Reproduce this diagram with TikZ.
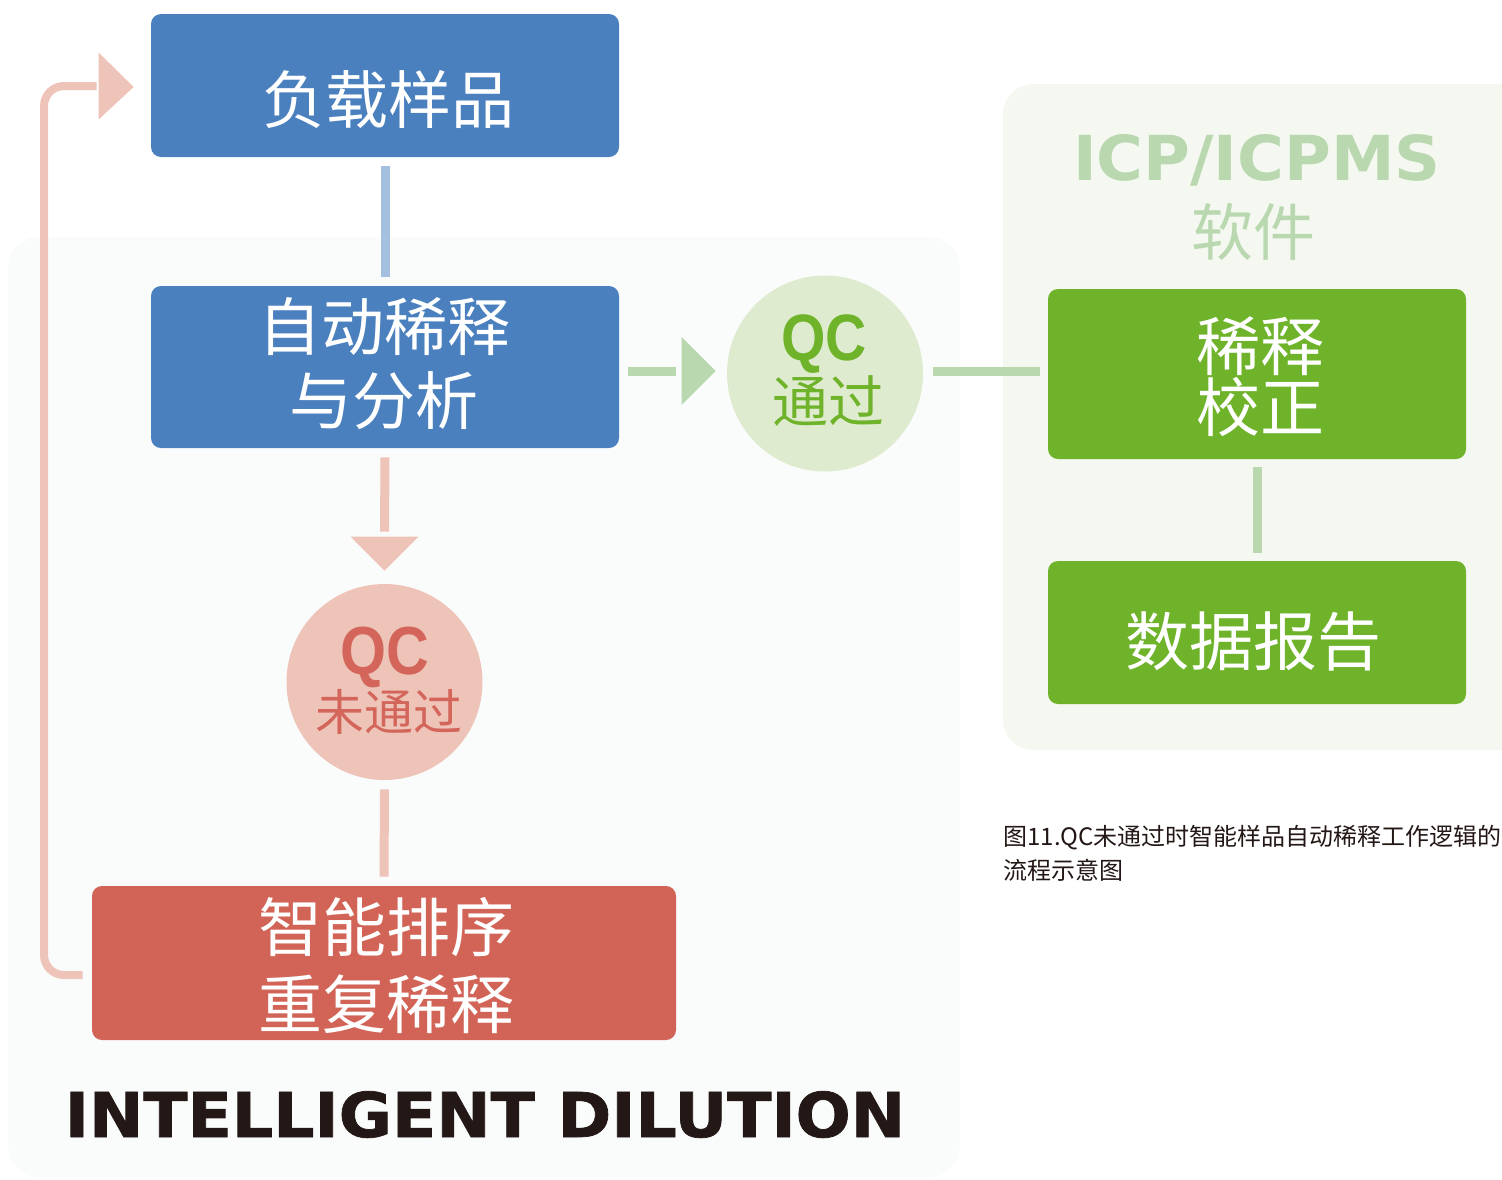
\documentclass[tikz,border=0pt]{standalone}
\usepackage{fontspec}
\setmainfont{Noto Sans CJK SC}
\newfontfamily\dvfont{DejaVu Sans}
\newfontfamily\dvheavy{DejaVu Sans}[FakeBold=1.2]
\newfontfamily\libfont{Liberation Sans}
\usetikzlibrary{calc}
\definecolor{cblue}{HTML}{4B80BF}
\definecolor{cbluel}{HTML}{A5BFDF}
\definecolor{cpink}{HTML}{EEC3B8}
\definecolor{cred}{HTML}{D26457}
\definecolor{credtxt}{HTML}{D3655A}
\definecolor{cgreen}{HTML}{6EB32A}
\definecolor{cgreenl}{HTML}{B9D8B0}
\definecolor{cpass}{HTML}{DFEBCE}
\definecolor{cleftpanel}{HTML}{FAFCFC}
\definecolor{crightpanel}{HTML}{F5F8F0}
\definecolor{cdark}{HTML}{231815}
\tikzset{
  boxshape/.style={rounded corners=5pt, inner sep=0pt},
  bluebox/.style={boxshape, fill=cblue, minimum width=234pt},
  greenbox/.style={boxshape, fill=cgreen, minimum width=209pt},
  redbox/.style={boxshape, fill=cred, minimum width=292pt, minimum height=77pt},
  qccircle/.style={circle, inner sep=0pt, minimum size=98pt},
  conn/.style={line width=4.5pt},
  boxtext/.style={inner sep=0pt, text=white, align=center},
  qcfont/.style={inner sep=0pt, anchor=base},
}
\begin{document}
\begin{tikzpicture}[x=0.5pt,y=-0.5pt]
\useasboundingbox (0,0) rectangle (1502,1179);
% panels
\fill[cleftpanel, rounded corners=15pt] (8,237) rectangle (960,1177);
\fill[crightpanel, rounded corners=15pt] (1003,84) rectangle (1540,750);

% boxes
\node[bluebox, minimum height=71.5pt] (b1) at (385,85.5) {};
\node[bluebox, minimum height=81pt] (b2) at (385,367) {};
\node[redbox] (red) at (384,963) {};
\node[greenbox, minimum height=85pt] (g1) at (1257,374) {};
\node[greenbox, minimum height=71.5pt] (g2) at (1257,632.5) {};
\node[qccircle, fill=cpass] (pass) at (825,373.5) {};
\node[qccircle, fill=cpink] (fail) at (384.5,682) {};

% box texts
\node[boxtext, font=\fontsize{31.5pt}{37pt}\selectfont] (t1) at (388,100) {负载样品};
\node[boxtext, font=\fontsize{31.5pt}{37pt}\selectfont] (t2) at (384,364) {自动稀释\\与分析};
\node[boxtext, font=\fontsize{32pt}{38.5pt}\selectfont] (t3) at (386,965.5) {智能排序\\重复稀释};
\node[boxtext, font=\fontsize{32pt}{30.5pt}\selectfont] (t4) at (1260,376.5) {稀释\\校正};
\node[boxtext, font=\fontsize{32pt}{38pt}\selectfont] (t5) at (1253,641) {数据报告};

% circle texts
\node[qcfont, text=cgreen, font=\libfont\bfseries\fontsize{32.8pt}{36pt}\selectfont] (pq) at (824,360) {\scalebox{0.87}[1]{QC}};
\node[inner sep=0pt, text=cgreen, font=\fontsize{28pt}{30pt}\selectfont] (pt) at (828,401) {通过};
\node[qcfont, text=credtxt, font=\libfont\bfseries\fontsize{34pt}{36pt}\selectfont] (fq) at (385,674) {\scalebox{0.87}[1]{QC}};
\node[inner sep=0pt, text=credtxt, font=\fontsize{24.5pt}{26pt}\selectfont] (ft) at (389,712) {未通过};

% ICP header
\node[qcfont, text=cgreenl, font=\dvfont\bfseries\fontsize{31pt}{34pt}\selectfont] (icp) at (1257,180) {\scalebox{1.03}[1]{ICP/ICPMS}};
\node[inner sep=0pt, text=cgreenl, font=\fontsize{31pt}{34pt}\selectfont] (sw) at (1253,232) {软件};

% title
\node[qcfont, text=cdark, font=\dvheavy\bfseries\fontsize{30.9pt}{34pt}\selectfont] (title) at (485,1137) {\scalebox{1.05}[1]{INTELLIGENT DILUTION}};

% caption
\node[inner sep=0pt, anchor=north west, align=left, text=cdark, font=\fontsize{12pt}{17pt}\selectfont] (cap) at (1003,825) {图11.QC未通过时智能样品自动稀释工作逻辑的\\流程示意图};

% connectors
\draw[conn, cbluel] ($(b1.south)+(0,9)$) -- ($(b2.north)+(0,-9)$);
\draw[conn, cpink] ($(b2.south)+(0,9)$) -- ($(fail.north)+(0,-52)$);
\fill[cpink] ($(fail.north)+(-34,-47)$) -- ($(fail.north)+(34,-47)$) -- ($(fail.north)+(0,-13)$) -- cycle;
\draw[conn, cpink] ($(fail.south)+(0,9)$) -- ($(red.north)+(0,-9)$);
\draw[conn, cgreenl] ($(b2.east)+(9,4)$) -- ($(pass.west)+(-51,-2.5)$);
\fill[cgreenl] ($(pass.west)+(-45,-36.5)$) -- ($(pass.west)+(-45,31.5)$) -- ($(pass.west)+(-11,-2.5)$) -- cycle;
\draw[conn, cgreenl] ($(pass.east)+(10,-2.5)$) -- ($(g1.west)+(-8,-3)$);
\draw[conn, cgreenl] ($(g1.south)+(0,8)$) -- ($(g2.north)+(0,-8)$);
% feedback loop
\draw[line width=4pt, cpink, rounded corners=10pt] ($(red.west)+(-9,12)$) -| (44,86) -- ($(b1.west)+(-54,0.5)$);
\fill[cpink] ($(b1.west)+(-52,-33)$) -- ($(b1.west)+(-52,34)$) -- ($(b1.west)+(-17,1.5)$) -- cycle;
\end{tikzpicture}
\end{document}
